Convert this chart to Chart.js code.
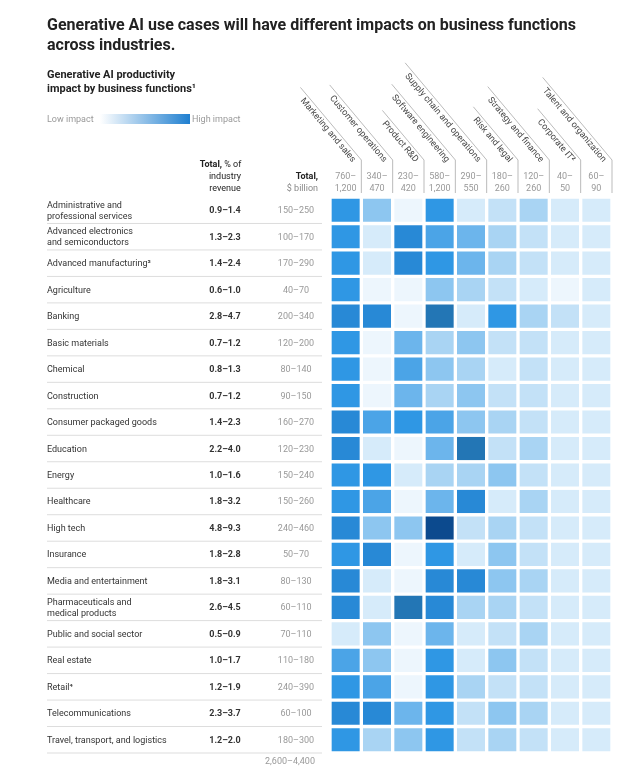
<!DOCTYPE html>
<html>
<head>
<meta charset="utf-8">
<script src="https://cdn.jsdelivr.net/npm/chart.js@4"></script>
<style>
  body { margin: 0; background: #fff; }
  #wrap { width: 640px; height: 767px; position: relative; }
</style>
</head>
<body>
<div id="wrap"><canvas id="heat" width="640" height="767"></canvas></div>
<script>
var industries = [
  ['Administrative and', 'professional services'],
  ['Advanced electronics', 'and semiconductors'],
  ['Advanced manufacturing³'],
  ['Agriculture'],
  ['Banking'],
  ['Basic materials'],
  ['Chemical'],
  ['Construction'],
  ['Consumer packaged goods'],
  ['Education'],
  ['Energy'],
  ['Healthcare'],
  ['High tech'],
  ['Insurance'],
  ['Media and entertainment'],
  ['Pharmaceuticals and', 'medical products'],
  ['Public and social sector'],
  ['Real estate'],
  ['Retail⁴'],
  ['Telecommunications'],
  ['Travel, transport, and logistics']
];
var revenuePct = ['0.9–1.4','1.3–2.3','1.4–2.4','0.6–1.0','2.8–4.7','0.7–1.2','0.8–1.3','0.7–1.2','1.4–2.3','2.2–4.0','1.0–1.6','1.8–3.2','4.8–9.3','1.8–2.8','1.8–3.1','2.6–4.5','0.5–0.9','1.0–1.7','1.2–1.9','2.3–3.7','1.2–2.0'];
var industryBn = ['150–250','100–170','170–290','40–70','200–340','120–200','80–140','90–150','160–270','120–230','150–240','150–260','240–460','50–70','80–130','60–110','70–110','110–180','240–390','60–100','180–300'];
var totalBn = '2,600–4,400';

var functions = ['Marketing and sales','Customer operations','Product R&D','Software engineering','Supply chain and operations','Risk and legal','Strategy and finance','Corporate IT²','Talent and organization'];
var functionBn = [['760–','1,200'],['340–','470'],['230–','420'],['580–','1,200'],['290–','550'],['180–','260'],['120–','260'],['40–','50'],['60–','90']];

// impact level 0 (low) .. 10 (high), one row per industry, one column per function
var impact = [
  [7,4,0,7,1,2,3,1,1],
  [7,1,8,6,5,3,2,1,1],
  [7,1,8,7,5,3,2,1,1],
  [7,0,0,4,3,2,1,0,1],
  [8,8,0,9,1,7,3,2,1],
  [7,0,5,3,4,2,2,1,1],
  [7,0,6,4,3,1,2,1,1],
  [7,0,5,3,4,2,2,1,1],
  [8,6,7,6,4,3,2,1,1],
  [8,1,0,5,9,2,3,1,1],
  [7,7,1,3,3,4,2,1,1],
  [7,6,0,5,8,1,3,1,1],
  [8,4,4,10,2,3,2,1,1],
  [7,8,0,7,1,4,2,1,1],
  [8,1,0,8,8,4,3,1,1],
  [8,1,9,8,3,3,2,1,1],
  [1,4,0,5,1,2,3,1,1],
  [6,4,0,7,1,4,2,1,1],
  [7,6,0,7,3,2,2,1,1],
  [8,8,5,7,2,4,3,1,1],
  [7,3,4,7,2,3,2,1,1]
];
var palette = ['#edf6fd','#d6ebfa','#c3e1f7','#a9d4f3','#8dc6f0','#6cb5ec','#4ba4e7','#2f97e4','#2889d6','#2376b5','#0c4a8e'];

var rowKeys = industries.map(function (d) { return d.join(' '); });
var datasets = functions.map(function (f, c) {
  return {
    label: f,
    data: impact.map(function () { return 1; }),
    backgroundColor: impact.map(function (r) { return palette[r[c]]; }),
    borderColor: '#ffffff',
    borderWidth: 2,
    borderSkipped: false,
    barPercentage: 1,
    categoryPercentage: 1
  };
});

var F = 'Roboto, "Liberation Sans", sans-serif';

var decor = {
  id: 'decor',
  afterDraw: function (chart) {
    var ctx = chart.ctx, xs = chart.scales.x, ys = chart.scales.y;
    ctx.save();
    ctx.textBaseline = 'alphabetic';
    // title
    ctx.fillStyle = '#222';
    ctx.font = 'bold 16px ' + F;
    ctx.fillText('Generative AI use cases will have different impacts on business functions', 47, 30);
    ctx.fillText('across industries.', 47, 50);
    ctx.font = 'bold 11px ' + F;
    ctx.fillText('Generative AI productivity', 47, 78);
    ctx.fillText('impact by business functions¹', 47, 92);
    // legend
    ctx.font = '9px ' + F;
    ctx.fillStyle = '#999';
    ctx.fillText('Low impact', 47, 122);
    ctx.fillText('High impact', 192, 122);
    var g = ctx.createLinearGradient(100, 0, 190, 0);
    g.addColorStop(0, '#ffffff'); g.addColorStop(1, '#1f7fd0');
    ctx.fillStyle = g;
    ctx.fillRect(100, 114, 90, 10);

    // left column headers
    ctx.textAlign = 'right';
    ctx.fillStyle = '#222';
    ctx.font = 'bold 9px ' + F;
    ctx.fillText('Total,', 222, 167);
    ctx.font = '9px ' + F;
    ctx.textAlign = 'left';
    ctx.fillText(' % of', 222, 167);
    ctx.textAlign = 'center';
    ctx.fillText('industry', 225, 179);
    ctx.fillText('revenue', 225, 191);
    ctx.textAlign = 'right';
    ctx.font = 'bold 9px ' + F;
    ctx.fillText('Total,', 318, 179);
    ctx.font = '9px ' + F;
    ctx.fillStyle = '#888';
    ctx.fillText('$ billion', 318, 191);

    // rows
    var step = ys.getPixelForValue(1) - ys.getPixelForValue(0);
    rowKeys.forEach(function (k, i) {
      var y = ys.getPixelForValue(i);
      var lines = industries[i];
      ctx.textAlign = 'left';
      ctx.fillStyle = '#333';
      ctx.font = '9px ' + F;
      lines.forEach(function (l, j) {
        ctx.fillText(l, 47, y + 3 + (j - (lines.length - 1) / 2) * 11);
      });
      ctx.textAlign = 'center';
      ctx.font = 'bold 9px ' + F;
      ctx.fillText(revenuePct[i], 225, y + 3);
      ctx.font = '9px ' + F;
      ctx.fillStyle = '#999';
      ctx.fillText(industryBn[i], 296, y + 3);
      ctx.strokeStyle = '#ddd';
      ctx.lineWidth = 1;
      ctx.beginPath();
      ctx.moveTo(47, y + step / 2); ctx.lineTo(322, y + step / 2);
      ctx.stroke();
    });
    ctx.fillStyle = '#999';
    ctx.textAlign = 'center';
    ctx.fillText(totalBn, 290, 764);

    // function headers
    functions.forEach(function (f, c) {
      var cx = xs.getPixelForValue(c + 0.5);
      var right = xs.getPixelForValue(c + 1);
      ctx.fillStyle = '#999';
      ctx.font = '9px ' + F;
      ctx.textAlign = 'center';
      ctx.textBaseline = 'alphabetic';
      ctx.fillText(functionBn[c][0], cx, 179);
      ctx.fillText(functionBn[c][1], cx, 191);
      ctx.strokeStyle = '#bbb';
      ctx.lineWidth = 1;
      var ax = right, ay = 160;
      var ang = 50 * Math.PI / 180;
      var len = ctx.measureText(f).width + 14;
      ctx.beginPath();
      ctx.moveTo(ax, 193); ctx.lineTo(ax, ay);
      ctx.lineTo(ax - Math.cos(ang) * len, ay - Math.sin(ang) * len);
      ctx.stroke();
      ctx.save();
      ctx.translate(ax, ay);
      ctx.rotate(ang);
      ctx.textAlign = 'right';
      ctx.textBaseline = 'top';
      ctx.fillStyle = '#444';
      ctx.fillText(f, -4, 2);
      ctx.restore();
    });
    ctx.restore();
  }
};

new Chart(document.getElementById('heat'), {
  type: 'bar',
  data: { labels: rowKeys, datasets: datasets },
  options: {
    indexAxis: 'y',
    responsive: false,
    animation: false,
    devicePixelRatio: 1,
    layout: { padding: { left: 330, right: 28, top: 197, bottom: 14 } },
    plugins: { legend: { display: false }, tooltip: { enabled: false } },
    scales: {
      x: { stacked: true, min: 0, max: 9, display: false },
      y: { stacked: true, display: false }
    }
  },
  plugins: [decor]
});
</script>
</body>
</html>
